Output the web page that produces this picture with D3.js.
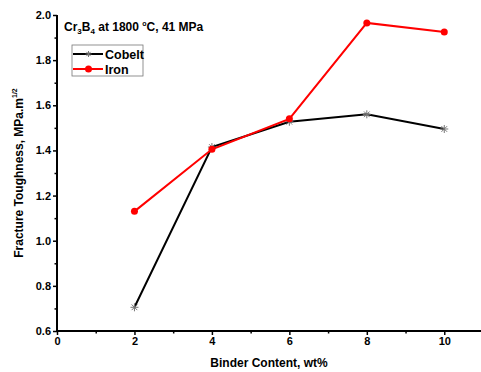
<!DOCTYPE html>
<html>
<head>
<meta charset="utf-8">
<script src="https://cdn.jsdelivr.net/npm/d3@7"></script>
<style>
  body { margin: 0; background: #fff; }
  svg text { font-family: "Liberation Sans", Arial, sans-serif; font-weight: bold; }
</style>
</head>
<body>
<svg id="chart" width="481" height="372"></svg>
<script>
// binder content (wt%)
const binder = [2, 4, 6, 8, 10];
const cobelt = [0.705, 1.415, 1.527, 1.56, 1.495];
const iron = [1.13, 1.405, 1.54, 1.965, 1.925];
const xTicks = [0, 2, 4, 6, 8, 10];
const yTicks = [0.6, 0.8, 1.0, 1.2, 1.4, 1.6, 1.8, 2.0];

const svg = d3.select('#chart');
const mLeft = 57, mRight = 483, mTop = 15, mBottom = 331;

let x = d3.scaleLinear().domain([0, 11]).range([mLeft, mRight]);
let y = d3.scaleLinear().domain([0.6, 2.0]).range([mBottom, mTop]);

// axes
let xAxis = svg.append('g')
    .attr('transform', `translate(0,${mBottom})`)
    .call(d3.axisBottom(x).tickValues(xTicks).tickFormat(d3.format('d')).tickSize(4).tickPadding(2));
svg.append('g')
    .attr('transform', `translate(0,${mBottom})`)
    .call(d3.axisBottom(x).tickValues([1, 3, 5, 7, 9]).tickFormat('').tickSize(2.5))
    .select('.domain').remove();

let yAxis = svg.append('g')
    .attr('transform', `translate(${mLeft},0)`)
    .call(d3.axisLeft(y).tickValues(yTicks).tickFormat(d3.format('.1f')).tickSize(4).tickPadding(2));
svg.append('g')
    .attr('transform', `translate(${mLeft},0)`)
    .call(d3.axisLeft(y).tickValues([0.7, 0.9, 1.1, 1.3, 1.5, 1.7, 1.9]).tickFormat('').tickSize(2.5))
    .select('.domain').remove();

xAxis.select('.domain').attr('d', `M${mLeft},0H${mRight}`).attr('stroke-width', 2);
yAxis.select('.domain').attr('d', `M0,${mTop}V${mBottom}`).attr('stroke-width', 2);
svg.selectAll('.tick line').attr('stroke-width', 1.5);
svg.selectAll('.tick text').attr('font-size', 11).attr('fill', '#000');

// lines
let line = d3.line()
    .x((d, i) => x(binder[i]))
    .y(d => y(d));

// star markers for cobelt (drawn under the line, light grey)
const star = (g, cx, cy, r) => {
    [0, 45, 90, 135].forEach(a => {
        let rad = a * Math.PI / 180;
        g.append('line')
            .attr('x1', cx - r * Math.cos(rad)).attr('y1', cy - r * Math.sin(rad))
            .attr('x2', cx + r * Math.cos(rad)).attr('y2', cy + r * Math.sin(rad))
            .attr('stroke', '#777').attr('stroke-width', 1);
    });
};

svg.append('path')
    .attr('d', line(cobelt))
    .attr('fill', 'none')
    .attr('stroke', '#000')
    .attr('stroke-width', 2);

let marks = svg.append('g');
cobelt.forEach((v, i) => star(marks, x(binder[i]), y(v), 4));

svg.append('path')
    .attr('d', line(iron))
    .attr('fill', 'none')
    .attr('stroke', '#ff0000')
    .attr('stroke-width', 2);

svg.append('g').selectAll('circle')
    .data(iron)
    .enter().append('circle')
    .attr('cx', (d, i) => x(binder[i]))
    .attr('cy', d => y(d))
    .attr('r', 3.5)
    .attr('fill', '#ff0000');

// title
let title = svg.append('text')
    .attr('x', 64).attr('y', 31)
    .attr('font-size', 12);
title.append('tspan').text('Cr');
title.append('tspan').text('3').attr('font-size', 8).attr('dy', 3);
title.append('tspan').text('B').attr('dy', -3);
title.append('tspan').text('4').attr('font-size', 8).attr('dy', 3);
title.append('tspan').text(' at 1800 ').attr('dy', -3);
title.append('tspan').text('o').attr('font-size', 7).attr('dy', -5);
title.append('tspan').text('C, 41 MPa').attr('dy', 5);

// legend
svg.append('rect')
    .attr('x', 72).attr('y', 45).attr('width', 71).attr('height', 31)
    .attr('fill', '#fff').attr('stroke', '#777').attr('stroke-width', 0.8);

let lg = svg.append('g');
lg.append('line').attr('x1', 73).attr('x2', 103).attr('y1', 54).attr('y2', 54)
    .attr('stroke', '#000').attr('stroke-width', 2);
star(lg, 88.5, 54, 3);
lg.append('text').attr('x', 105).attr('y', 58.5).attr('font-size', 12.5).text('Cobelt');
lg.append('line').attr('x1', 73).attr('x2', 103).attr('y1', 69).attr('y2', 69)
    .attr('stroke', '#ff0000').attr('stroke-width', 2);
lg.append('circle').attr('cx', 88.5).attr('cy', 69).attr('r', 3.5).attr('fill', '#ff0000');
lg.append('text').attr('x', 105).attr('y', 73.5).attr('font-size', 12.5).text('Iron');

// axis labels
svg.append('text')
    .attr('x', (mLeft + 481) / 2).attr('y', 367)
    .attr('text-anchor', 'middle')
    .attr('font-size', 12)
    .text('Binder Content, wt%');

let yl = svg.append('text')
    .attr('transform', `translate(23,${(mTop + mBottom) / 2}) rotate(-90)`)
    .attr('text-anchor', 'middle')
    .attr('font-size', 12);
yl.append('tspan').text('Fracture Toughness, MPa.m');
yl.append('tspan').text('1/2').attr('font-size', 7).attr('dy', -6);
</script>
</body>
</html>
